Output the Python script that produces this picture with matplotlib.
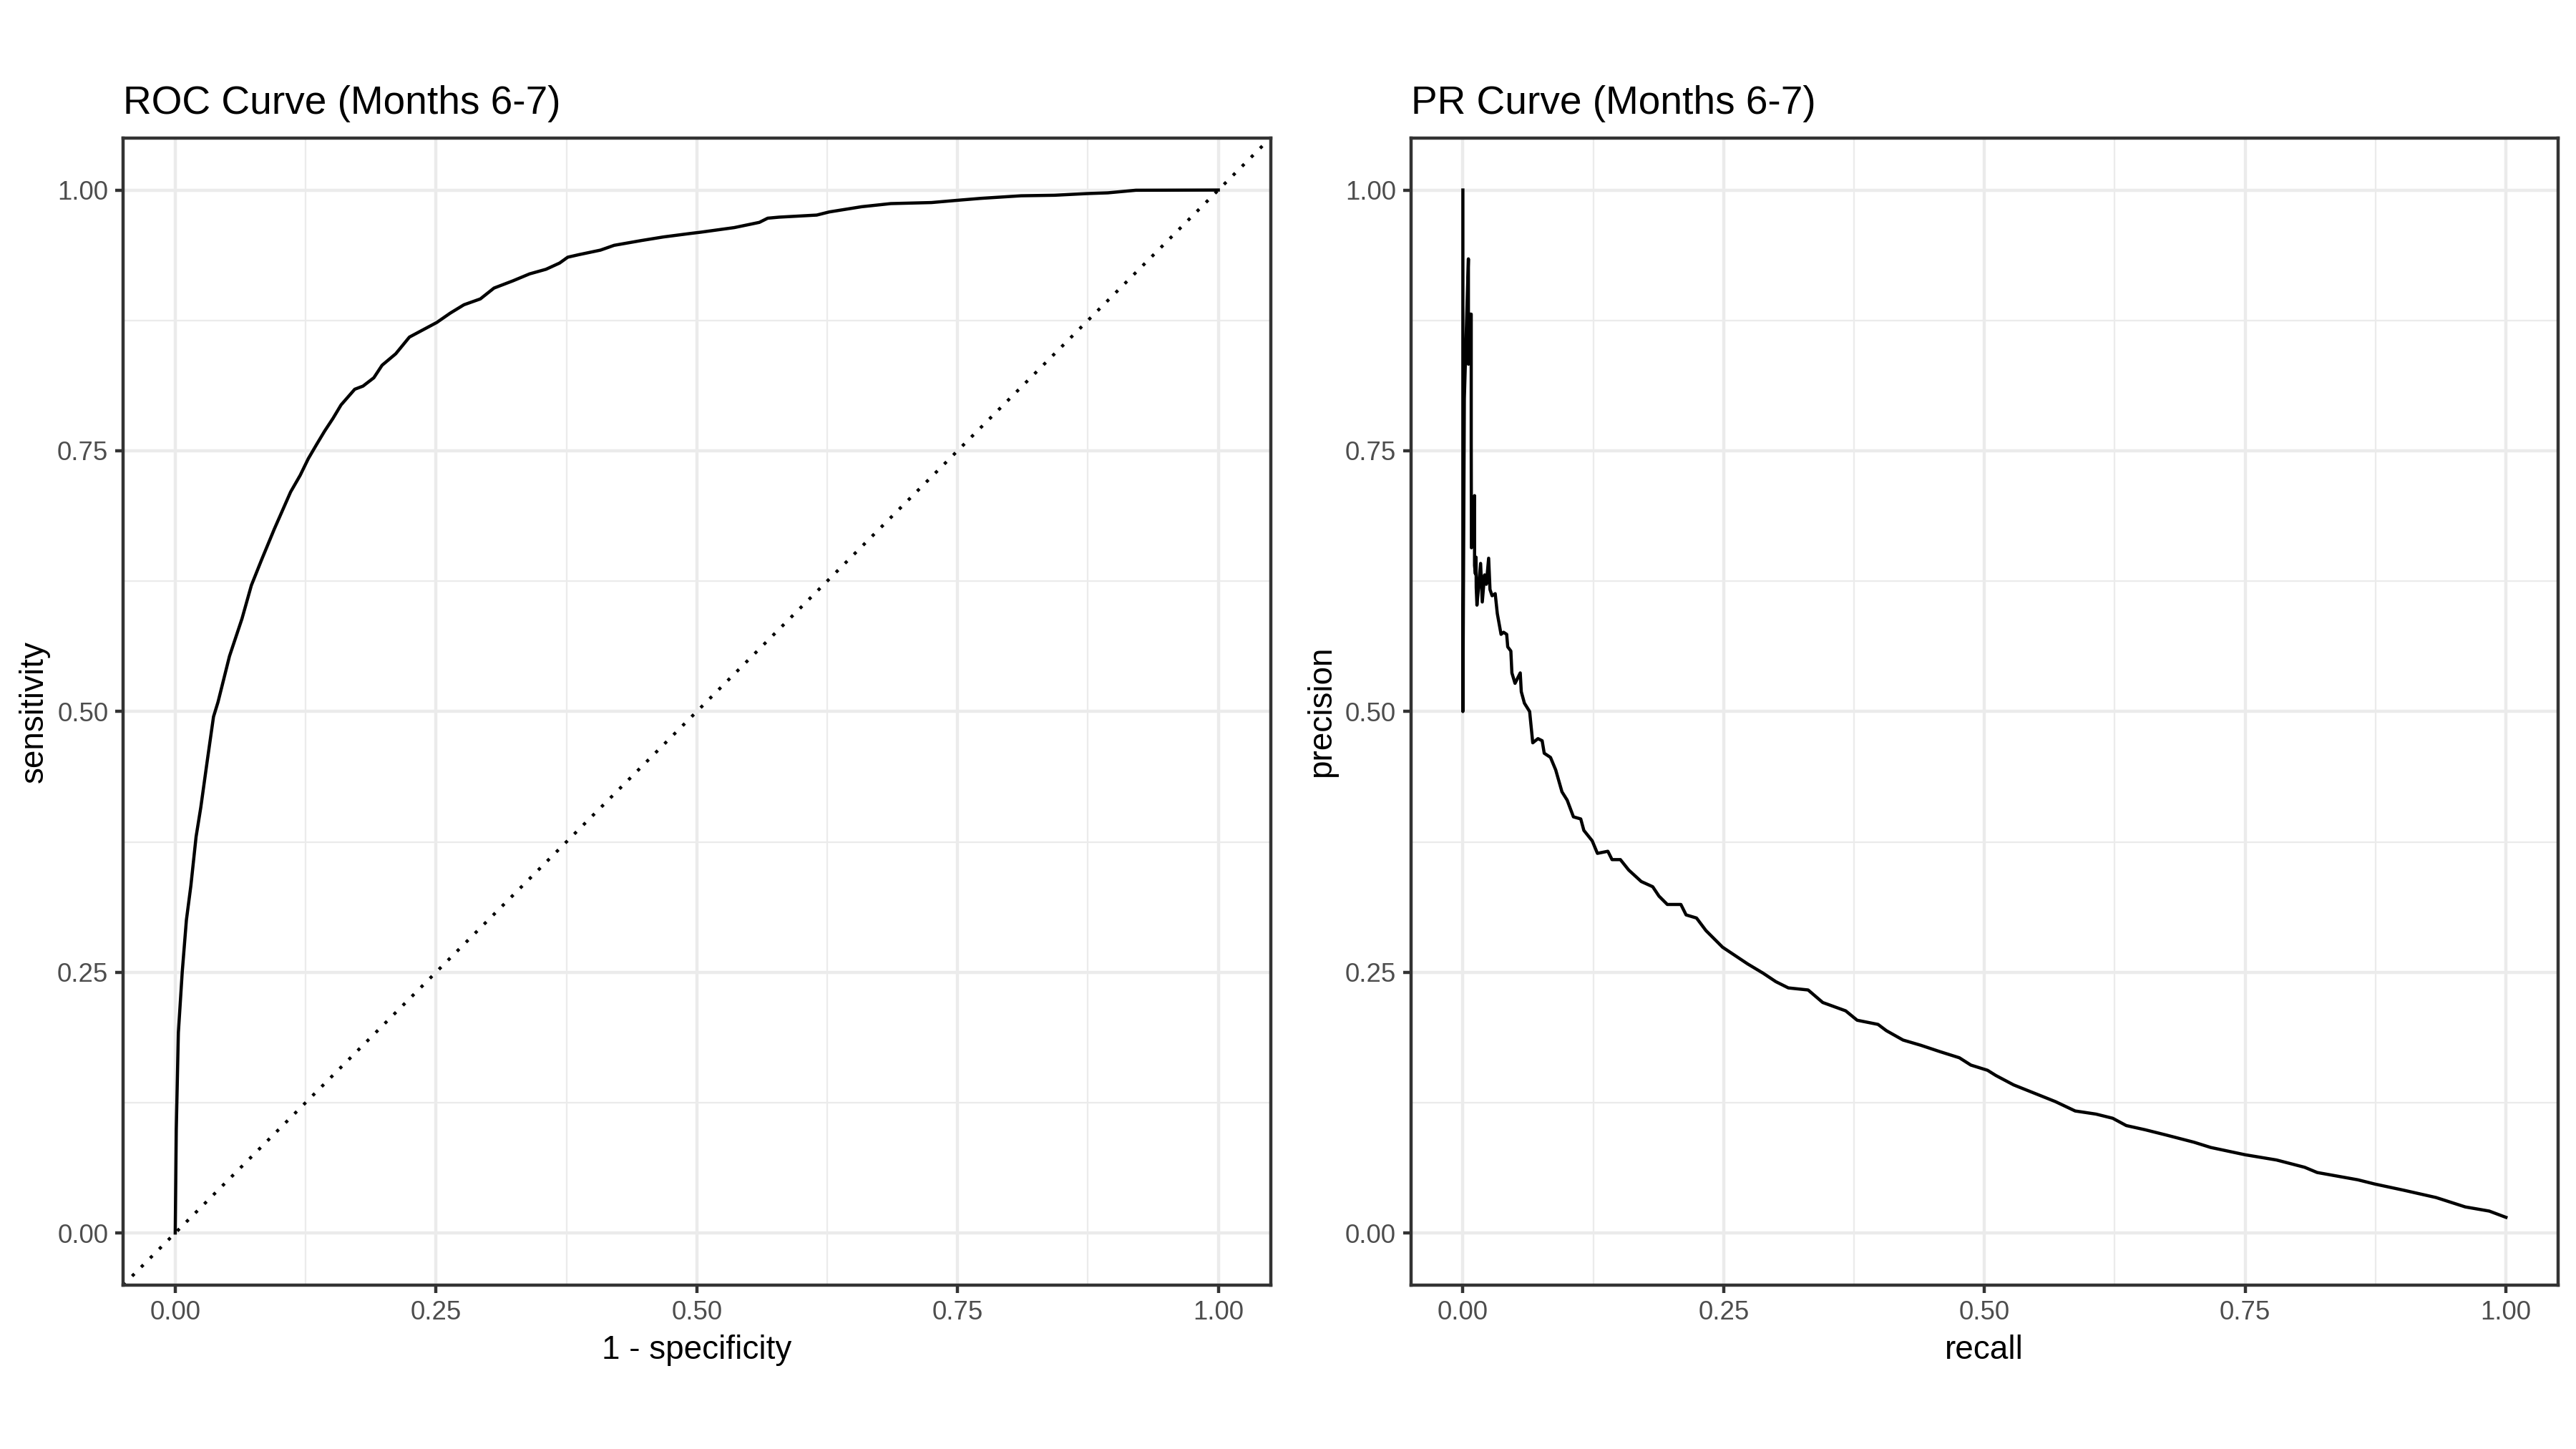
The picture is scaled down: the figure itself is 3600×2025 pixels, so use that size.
import matplotlib
matplotlib.use("Agg")
import matplotlib.pyplot as plt
from matplotlib.ticker import FixedLocator, FixedFormatter

plt.rcParams['font.family'] = ['Liberation Sans', 'DejaVu Sans']

# ---- data ----
roc_fpr = [0, 0.001, 0.003, 0.0067, 0.0107, 0.015, 0.020, 0.0245, 0.0306, 0.0367,
           0.041, 0.052, 0.064, 0.073, 0.083, 0.095, 0.1106, 0.1198, 0.1276, 0.1355,
           0.1433, 0.1512, 0.159, 0.1721, 0.18, 0.1904, 0.1983, 0.2114, 0.2245, 0.2376,
           0.2507, 0.2637, 0.2768, 0.2925, 0.3056, 0.3239, 0.3397, 0.3554, 0.3685, 0.3763,
           0.3868, 0.4077, 0.4208, 0.447, 0.4679, 0.4941, 0.504, 0.536, 0.560, 0.568,
           0.579, 0.615, 0.627, 0.658, 0.686, 0.725, 0.748, 0.772, 0.811, 0.843,
           0.874, 0.894, 0.921, 1.0]
roc_tpr = [0, 0.099, 0.192, 0.25, 0.30, 0.333, 0.380, 0.408, 0.452, 0.495,
           0.509, 0.553, 0.589, 0.621, 0.646, 0.675, 0.7105, 0.7265, 0.7425, 0.756,
           0.769, 0.781, 0.794, 0.809, 0.812, 0.820, 0.832, 0.843, 0.859, 0.866,
           0.873, 0.882, 0.890, 0.8956, 0.906, 0.913, 0.9196, 0.924, 0.930, 0.9356,
           0.938, 0.9424, 0.947, 0.9516, 0.955, 0.9584, 0.9596, 0.964, 0.969, 0.973,
           0.974, 0.976, 0.979, 0.984, 0.987, 0.988, 0.990, 0.992, 0.9945, 0.995,
           0.9966, 0.9973, 0.9998, 1.0]

pr_recall = [0, 0, 0.0014, 0.0053, 0.0053, 0.0068, 0.0080, 0.0080, 0.0082, 0.0112,
             0.0112, 0.0120, 0.0126, 0.0128, 0.0135, 0.0170, 0.0186, 0.0208, 0.0225, 0.0247,
             0.026, 0.028, 0.031, 0.033, 0.0366, 0.039, 0.042, 0.043, 0.046, 0.047,
             0.050, 0.055, 0.056, 0.059, 0.064, 0.067, 0.072, 0.076, 0.078, 0.084,
             0.089, 0.095, 0.100, 0.106, 0.113, 0.116, 0.124, 0.129, 0.139, 0.143,
             0.151, 0.159, 0.171, 0.182, 0.188, 0.196, 0.209, 0.214, 0.224, 0.233,
             0.241, 0.249, 0.261, 0.273, 0.288, 0.300, 0.312, 0.331, 0.345, 0.367,
             0.378, 0.398, 0.406, 0.422, 0.439, 0.457, 0.476, 0.487, 0.503, 0.511,
             0.528, 0.548, 0.568, 0.587, 0.607, 0.623, 0.636, 0.654, 0.674, 0.701,
             0.717, 0.75, 0.780, 0.807, 0.819, 0.858, 0.874, 0.902, 0.933, 0.961,
             0.984, 1.0]
pr_precision = [1.0, 0.5, 0.80, 0.934, 0.833, 0.881, 0.881, 0.758, 0.657, 0.707,
                0.640, 0.632, 0.648, 0.619, 0.602, 0.642, 0.605, 0.631, 0.622, 0.647,
                0.617, 0.611, 0.613, 0.594, 0.574, 0.576, 0.574, 0.562, 0.558, 0.537,
                0.527, 0.537, 0.519, 0.508, 0.500, 0.470, 0.474, 0.472, 0.460, 0.456,
                0.444, 0.423, 0.415, 0.399, 0.397, 0.386, 0.376, 0.364, 0.366, 0.358,
                0.358, 0.348, 0.337, 0.332, 0.323, 0.315, 0.315, 0.305, 0.302, 0.290,
                0.282, 0.274, 0.266, 0.258, 0.249, 0.241, 0.235, 0.233, 0.221, 0.213,
                0.204, 0.200, 0.194, 0.185, 0.180, 0.174, 0.168, 0.161, 0.156, 0.151,
                0.142, 0.134, 0.126, 0.117, 0.114, 0.110, 0.103, 0.099, 0.094, 0.087,
                0.082, 0.075, 0.070, 0.063, 0.058, 0.051, 0.047, 0.041, 0.034, 0.025,
                0.021, 0.015]

major_ticks = [0.0, 0.25, 0.5, 0.75, 1.0]
minor_ticks = [0.125, 0.375, 0.625, 0.875]
tick_labels = ["0.00", "0.25", "0.50", "0.75", "1.00"]

titles = ["ROC Curve (Months 6-7)", "PR Curve (Months 6-7)"]
xlabels = ["1 - specificity", "recall"]
ylabels = ["sensitivity", "precision"]

# ---- figure ----
W, H = 3600, 2025
fig = plt.figure(figsize=(12, 6.75), dpi=300)
LW = 1.07
axes_pos = [
    [172 / W, 1 - 1796 / H, 1603.5 / W, 1603.3 / H],
    [1971.5 / W, 1 - 1796 / H, 1603.5 / W, 1603.3 / H],
]


def style(ax, title, xl, yl):
    ax.set_xlim(-0.05, 1.05)
    ax.set_ylim(-0.05, 1.05)
    ax.xaxis.set_major_locator(FixedLocator(major_ticks))
    ax.yaxis.set_major_locator(FixedLocator(major_ticks))
    ax.xaxis.set_major_formatter(FixedFormatter(tick_labels))
    ax.yaxis.set_major_formatter(FixedFormatter(tick_labels))
    ax.xaxis.set_minor_locator(FixedLocator(minor_ticks))
    ax.yaxis.set_minor_locator(FixedLocator(minor_ticks))
    ax.grid(which='major', color='#EBEBEB', linewidth=LW)
    ax.grid(which='minor', color='#EBEBEB', linewidth=LW / 2)
    ax.set_axisbelow(True)
    ax.tick_params(which='major', length=11.5 * 72 / 300, width=LW, color='#333333',
                   labelsize=8.8, labelcolor='#4D4D4D', pad=2.2)
    ax.tick_params(which='minor', length=0)
    for s in ax.spines.values():
        s.set_color('#333333')
        s.set_linewidth(LW)
    ax.set_title(title, loc='left', fontsize=13.2, color='black', pad=8.0)
    ax.set_xlabel(xl, fontsize=11, color='black', labelpad=3.2)
    ax.set_ylabel(yl, fontsize=11, color='black', labelpad=2.5)


ax1 = fig.add_axes(axes_pos[0])
style(ax1, titles[0], xlabels[0], ylabels[0])
ax1.axline((0, 0), slope=1, color='black', linewidth=LW,
           linestyle=(0, (1, 3)), dash_capstyle='butt')
ax1.plot(roc_fpr, roc_tpr, color='black', linewidth=LW, solid_joinstyle='round')

ax2 = fig.add_axes(axes_pos[1])
style(ax2, titles[1], xlabels[1], ylabels[1])
ax2.plot(pr_recall, pr_precision, color='black', linewidth=LW, solid_joinstyle='round')

fig.savefig("out.png", dpi=300, facecolor='white')
